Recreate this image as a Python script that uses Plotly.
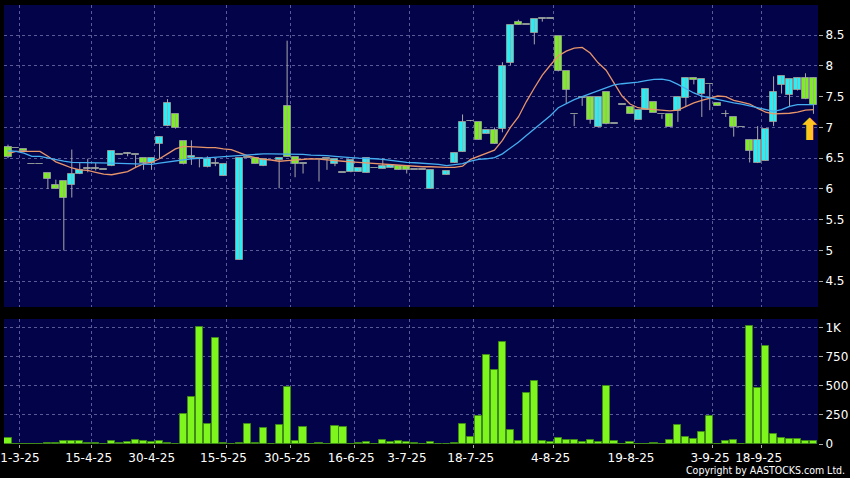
import plotly.graph_objects as go

# ---------------- data ----------------
N = 102
idx = list(range(N))

OPEN = [6.68, 6.66, 6.65, 6.40, 6.40, 6.26, 6.07, 6.13, 6.06, 6.24,
        6.32, 6.33, 6.31, 6.37, 6.55, 6.57, 6.55, 6.50, 6.42, 6.73,
        7.02, 7.21, 6.78, 6.50, 6.49, 6.35, 6.41, 6.21, None, 4.85,
        6.50, 6.50, 6.37, None, 6.47, 7.34, 6.52, 6.41, None, 6.48,
        6.49, 6.41, 6.265, 6.27, 6.28, 6.26, 6.335, 6.33, 6.34, 6.38,
        6.37, 6.31, 6.31, 6.00, None, 6.23, 6.42, 6.60, 7.10, 7.08,
        6.90, 6.96, 6.98, 8.05, 8.72, 8.67, 8.53, 8.76, 8.76, 8.49,
        7.91, 7.21, 7.48, 7.50, 7.00, 7.58, 7.06, 7.37, 7.33, 7.12,
        7.29, 7.42, 7.21, 7.21, 7.27, 7.47, 7.81, 7.55, 7.70, 7.40,
        7.21, 7.17, 7.00, 6.80, 6.42, 6.46, 7.08, 7.69, 7.53, 7.60,
        7.81, 7.81]
HIGH = [6.72, 6.66, 6.65, 6.40, 6.40, 6.26, 6.15, 6.13, 6.64, 6.42,
        6.49, 6.42, 6.31, 6.61, 6.55, 6.60, 6.55, 6.50, 6.51, 6.85,
        7.46, 7.21, 6.78, 6.79, 6.49, 6.53, 6.50, 6.41, None, 6.50,
        6.50, 6.50, 6.49, None, 6.50, 8.41, 6.52, 6.41, None, 6.48,
        6.49, 6.48, 6.265, 6.47, 6.34, 6.50, 6.335, 6.50, 6.39, 6.38,
        6.37, 6.31, 6.31, 6.31, None, 6.29, 6.59, 7.21, 7.12, 7.08,
        6.95, 7.00, 8.06, 8.67, 8.75, 8.67, 8.76, 8.78, 8.76, 8.49,
        7.91, 7.21, 7.49, 7.50, 7.50, 7.58, 7.06, 7.37, 7.33, 7.29,
        7.63, 7.42, 7.21, 7.21, 7.50, 7.81, 7.81, 7.78, 7.70, 7.40,
        7.28, 7.17, 7.00, 6.80, 7.02, 6.98, 7.83, 7.83, 7.79, 7.81,
        7.88, 7.81]
LOW = [6.50, 6.66, 6.61, 6.40, 6.40, 6.00, 6.00, 5.00, 5.86, 6.24,
       6.27, 6.30, 6.31, 6.37, 6.55, 6.53, 6.35, 6.31, 6.31, 6.49,
       7.02, 6.98, 6.40, 6.39, 6.35, 6.35, 6.37, 6.21, None, 4.85,
       6.50, 6.41, 6.37, None, 6.01, 6.52, 6.19, 6.25, None, 6.12,
       6.31, 6.37, 6.265, 6.27, 6.28, 6.26, 6.335, 6.33, 6.34, 6.31,
       6.25, 6.31, 6.31, 6.00, None, 6.23, 6.42, 6.60, 7.10, 6.80,
       6.90, 6.73, 6.92, 8.01, 8.67, 8.67, 8.35, 8.72, 8.76, 7.91,
       7.39, 7.02, 7.35, 7.06, 7.00, 7.05, 7.06, 7.37, 7.22, 7.12,
       7.29, 7.24, 7.14, 7.01, 7.09, 7.33, 7.70, 7.17, 7.28, 7.35,
       7.17, 6.85, 7.00, 6.43, 6.42, 6.46, 7.02, 7.55, 7.33, 7.60,
       7.46, 7.22]
CLOSE = [6.52, 6.66, 6.61, 6.40, 6.40, 6.16, 6.00, 5.85, 6.24, 6.31,
         6.32, 6.33, 6.31, 6.61, 6.55, 6.57, 6.55, 6.42, 6.51, 6.85,
         7.39, 6.99, 6.40, 6.54, 6.49, 6.49, 6.41, 6.41, None, 6.50,
         6.50, 6.41, 6.49, None, 6.50, 6.52, 6.41, 6.41, None, 6.48,
         6.49, 6.48, 6.265, 6.47, 6.34, 6.50, 6.335, 6.38, 6.39, 6.31,
         6.31, 6.31, 6.31, 6.31, None, 6.29, 6.59, 7.09, 7.10, 6.80,
         6.95, 6.73, 8.00, 8.67, 8.67, 8.67, 8.76, 8.76, 8.76, 7.91,
         7.60, 7.21, 7.48, 7.12, 7.50, 7.05, 7.06, 7.37, 7.22, 7.29,
         7.63, 7.24, 7.21, 7.01, 7.50, 7.81, 7.77, 7.78, 7.70, 7.35,
         7.21, 7.00, 7.00, 6.61, 6.79, 6.98, 7.58, 7.83, 7.79, 7.81,
         7.46, 7.36]
VOLUME = [55, 3, 3, 3, 3, 5, 12, 23, 29, 23,
          12, 12, 3, 23, 12, 14, 32, 23, 20, 26,
          12, 4, 262, 403, 1009, 176, 914, 12, 0, 12,
          176, 9, 135, 0, 161, 486, 29, 150, 0, 12,
          3, 158, 150, 3, 12, 17, 3, 32, 14, 23,
          17, 12, 3, 17, 0, 3, 12, 170, 58, 245,
          767, 633, 874, 124, 23, 437, 540, 23, 14, 49,
          32, 37, 14, 32, 17, 503, 23, 3, 17, 3,
          3, 12, 3, 32, 167, 58, 40, 103, 239, 3,
          29, 37, 3, 1017, 480, 842, 84, 49, 40, 45,
          26, 29]
MA_SHORT = [6.575, 6.61, 6.61, 6.61, 6.61, 6.53, 6.44, 6.39, 6.34, 6.31,
            6.30, 6.27, 6.24, 6.23, 6.25, 6.28, 6.35, 6.41, 6.43, 6.49,
            6.57, 6.65, 6.69, 6.69, 6.68, 6.67, 6.67, 6.65, 6.64, 6.59,
            6.54, 6.51, 6.48, 6.47, 6.45, 6.46, 6.47, 6.48, 6.49, 6.485,
            6.47, 6.46, 6.45, 6.44, 6.43, 6.42, 6.41, 6.40, 6.395, 6.39,
            6.38, 6.37, 6.36, 6.36, 6.35, 6.35, 6.35, 6.37, 6.48, 6.53,
            6.58, 6.63, 6.79, 7.00, 7.17, 7.42, 7.64, 7.85, 8.01, 8.16,
            8.24, 8.29, 8.30, 8.21, 8.05, 7.93, 7.72, 7.51, 7.38, 7.32,
            7.30, 7.29, 7.28, 7.27, 7.28, 7.34, 7.40, 7.44, 7.48, 7.51,
            7.50, 7.44, 7.41, 7.38, 7.31, 7.25, 7.22, 7.22, 7.23, 7.25,
            7.28, 7.29]
MA_LONG = [6.62, 6.61, 6.58, 6.53, 6.53, 6.50, 6.47, 6.45, 6.43, 6.43,
           6.43, 6.43, 6.43, 6.42, 6.415, 6.41, 6.40, 6.40, 6.40, 6.42,
           6.44, 6.46, 6.48, 6.49, 6.495, 6.505, 6.51, 6.52, 6.535, 6.55,
           6.56, 6.56, 6.57, 6.57, 6.57, 6.57, 6.56, 6.56, 6.55, 6.55,
           6.54, 6.53, 6.515, 6.51, 6.50, 6.50, 6.49, 6.48, 6.46, 6.45,
           6.43, 6.425, 6.42, 6.41, 6.40, 6.38, 6.39, 6.41, 6.45, 6.48,
           6.49, 6.51, 6.57, 6.66, 6.76, 6.87, 6.98, 7.08, 7.19, 7.32,
           7.39, 7.45, 7.50, 7.55, 7.60, 7.65, 7.69, 7.71, 7.72, 7.735,
           7.76, 7.78, 7.785, 7.76, 7.70, 7.63, 7.56, 7.51, 7.48, 7.45,
           7.43, 7.40, 7.38, 7.35, 7.33, 7.30, 7.26, 7.29, 7.34, 7.37,
           7.37, 7.37]

DATE_TICK_POS = [1.4, 10.5, 18.4, 27.4, 35.4, 43.4, 50.4, 58.4, 68.4, 78.5, 88.4, 94.5]
DATE_TICK_TEXT = ['31-3-25', '15-4-25', '30-4-25', '15-5-25', '30-5-25', '16-6-25',
                  '3-7-25', '18-7-25', '4-8-25', '19-8-25', '3-9-25', '18-9-25']
PRICE_TICKS = [4.5, 5, 5.5, 6, 6.5, 7, 7.5, 8, 8.5]
VOL_TICKS = [0, 250, 500, 750, 1000]
VOL_TICK_TEXT = ['0', '250', '500', '750', '1K']

# ---------------- styling ----------------
BG = '#03034a'
GRID = '#5a5a96'
UP = '#22f2f8'
DOWN = '#7cf01c'
OUTLINE = '#8c9494'
WICK = '#a8a8a8'
FONT = 'DejaVu Sans'
DASH = '3px,3px'

fig = go.Figure()

# wicks
wx, wy = [], []
for i in idx:
    if OPEN[i] is None:
        continue
    wx += [i, i, None]
    wy += [LOW[i], HIGH[i], None]
fig.add_trace(go.Scatter(x=wx, y=wy, mode='lines', line=dict(color=WICK, width=1),
                         hoverinfo='skip', showlegend=False, xaxis='x', yaxis='y'))

# bodies
bx, bbase, bh, bcol = [], [], [], []
for i in idx:
    o, c = OPEN[i], CLOSE[i]
    if o is None:
        continue
    bx.append(i)
    bbase.append(min(o, c))
    bh.append(max(abs(c - o), 0.012))
    bcol.append(UP if c > o else (DOWN if c < o else OUTLINE))
fig.add_trace(go.Bar(x=bx, y=bh, base=bbase, width=0.88,
                     marker=dict(color=bcol, line=dict(color=OUTLINE, width=1)),
                     showlegend=False, xaxis='x', yaxis='y'))

# moving averages
fig.add_trace(go.Scatter(x=idx, y=MA_SHORT, mode='lines', line=dict(color='#e8956a', width=1.3),
                         showlegend=False, xaxis='x', yaxis='y'))
fig.add_trace(go.Scatter(x=idx, y=MA_LONG, mode='lines', line=dict(color='#45aef0', width=1.3),
                         showlegend=False, xaxis='x', yaxis='y'))

# volume
fig.add_trace(go.Bar(x=idx, y=VOLUME, width=0.9,
                     marker=dict(color='#7ff51e', line=dict(color='#3f8a18', width=1)),
                     showlegend=False, xaxis='x2', yaxis='y2'))

XDOM = [4 / 850, 818 / 850]
XR = [-0.5, 101.57]
common_x = dict(domain=XDOM, range=XR, tickvals=DATE_TICK_POS, showgrid=True,
                gridcolor=GRID, griddash=DASH, gridwidth=1, zeroline=False,
                showline=False, fixedrange=True)

fig.update_layout(
    width=850, height=478,
    margin=dict(l=0, r=0, t=0, b=0),
    paper_bgcolor='black', plot_bgcolor=BG,
    barmode='overlay', bargap=0,
    font=dict(family=FONT, color='white', size=12),
    xaxis=dict(**common_x, anchor='y', showticklabels=False, ticks=''),
    yaxis=dict(domain=[1 - 307 / 478, 1 - 5 / 478], range=[4.08, 8.99], side='right',
               anchor='x', tickvals=PRICE_TICKS, ticks='outside', ticklen=4,
               tickcolor='#aaaaaa', showgrid=True, gridcolor=GRID, griddash=DASH,
               zeroline=False, automargin=False, tickfont=dict(size=12)),
    xaxis2=dict(**common_x, anchor='y2', ticktext=DATE_TICK_TEXT, ticks='outside',
                ticklen=3, tickcolor='#aaaaaa', tickfont=dict(size=12), automargin=False,
                ticklabeloverflow='allow', ticklabelshift=-3),
    yaxis2=dict(domain=[1 - 444 / 478, 1 - 319 / 478], range=[0, 1075], side='right',
                anchor='x2', tickvals=VOL_TICKS, ticktext=VOL_TICK_TEXT, ticks='outside',
                ticklen=4, tickcolor='#aaaaaa', showgrid=True, gridcolor=GRID,
                griddash=DASH, zeroline=False, automargin=False, tickfont=dict(size=12)),
    annotations=[
        dict(text='Copyright by AASTOCKS.com Ltd.', xref='paper', yref='paper',
             x=0.996, y=0.0, xanchor='right', yanchor='bottom', showarrow=False,
             font=dict(family='DejaVu Sans Condensed', size=10.5, color='white')),
        dict(text='⬆', xref='x', yref='y', x=idx[-1], y=LOW[-1], xanchor='center',
             yanchor='top', xshift=-4, yshift=4, showarrow=False,
             font=dict(family='DejaVu Sans', size=30, color='#ffc51e')),
    ],
)

fig.write_html('out.html', config={'displayModeBar': False},
               post_script="document.body.style.margin='0px';document.body.style.background='black';")
